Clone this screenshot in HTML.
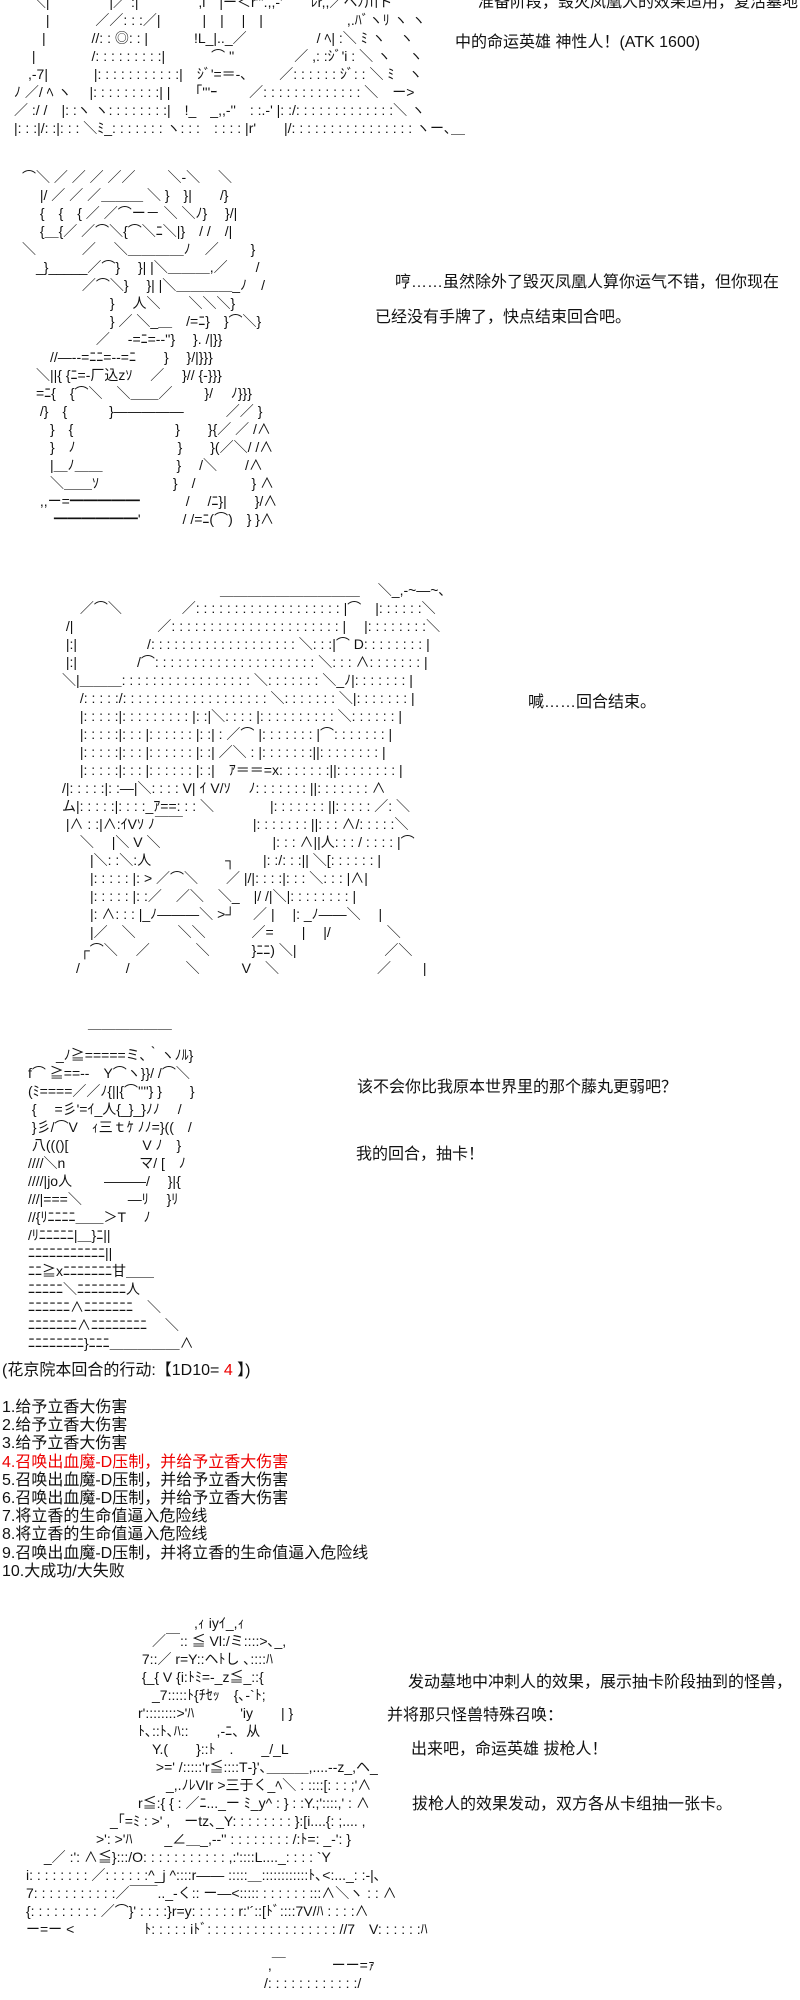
<!DOCTYPE html>
<html><head><meta charset="utf-8"><style>
html,body{margin:0;padding:0;background:#fff;width:800px;height:2000px;overflow:hidden;position:relative}
.aa{position:absolute;margin:0;white-space:pre;font-family:"Liberation Sans","Noto Sans CJK JP",sans-serif;font-size:14px;line-height:18px;color:#111}
.t{position:absolute;white-space:pre;font-family:"Liberation Sans","Noto Sans CJK SC",sans-serif;font-size:16px;line-height:18px;color:#111}
.red{color:#e00}
</style></head><body>

<pre class="aa" style="left:14px;top:-7px">　 ＼|　　　　 |／ :|　　　　 ,i　|ー＜r'''.,,-'　　ﾚr,,／ヘﾉ川ト
　　 |　　　 ／／: : :／|　　　|　|　 |　|　　　　　　,.ﾊﾞヽﾘ ヽ ヽ
　　|　　　 //: : ◎: : |　　　 !L_|.._／　　　　　/ ﾍ| :＼ ﾐ ヽ　ヽ
　 |　　　　/: : : : : : : : :|　　　 ⌒ ''　　　　 ／ ,: :ｼﾞ'i : ＼ ヽ　 ヽ
　,-7|　　　 |: : : : : : : : : : :|　ｼﾞ'=＝-､　　 ／: : : : : : ｼﾞ: : ＼ ﾐ　ヽ
ﾉ ／/ ﾍ ヽ　 |: : : : : : : : :| |　 「'''ｰ　　 ／: : : : : : : : : : : : : ＼　ー>
／ :/ /　|: :ヽ ヽ: : : : : : : :|　!_　_,,-''　: :.-' |: :/: : : : : : : : : : : : :＼ ヽ
|: : :|/: :|: : : ＼ﾐ_: : : : : : : ヽ: : :　: : : : |r'　　|/: : : : : : : : : : : : : : : : ヽー､＿</pre>

<div class="t" style="left:478px;top:-6px">准备阶段，毁灭凤凰人的效果适用，复活墓地</div>
<div class="t" style="left:455px;top:34px">中的命运英雄 神性人！(ATK 1600)</div>

<pre class="aa" style="left:22px;top:168px">⌒＼ ／ ／ ／ ／／　　 ＼-＼　 ＼
　 |/ ／ ／ ／＿＿＿ ＼ }　}|　　/}
　 {　{　{ ／ ／⌒ー－ ＼ ＼ﾉ}　 }/|
　 {＿{／ ／⌒＼{⌒＼ﾆ＼|}　/ /　/|
＼　　　 ／　 ＼＿＿＿＿ﾉ　／　　 }
　_}_____／⌒}　 }| |＼＿＿＿,／　　/
　　　　 ／⌒＼}　 }| |＼＿＿＿＿_ﾉ　/
　　　　　　 }　 人＼　　＼＼＼}
　　　　　　 } ／ ＼_＿　/=ﾆ}　}⌒＼}
　　　　　 ／　 -=ﾆ=--''}　 }. /|}}
　　//―--=ﾆﾆ=--=ﾆ　　}　 }/|}}}
　＼||{ {ﾆ=-厂込zｿ　 ／　 }// {-}}}
　=ﾆ{　{⌒＼　＼＿＿／　　 }/　 ﾉ}}}
　 /}　{　　　}―――――　　　／／ }
　　}　{　　　　　　　 }　　}{／ ／ /∧
　　}　ﾉ　　　　　　　 }　　}(／＼/ /∧
　　|＿ﾉ＿＿　　　　　 }　 /＼　　/∧
　　＼＿＿ｿ　　　　　 }　/　　　　} ∧
　 ,,ー=━━━━━　　　 /　 /ﾆ}|　　}/∧
　　 ━━━━━━'　　　/ /=ﾆ(⌒)　} }∧</pre>

<div class="t" style="left:395px;top:274px">哼……虽然除外了毁灭凤凰人算你运气不错，但你现在</div>
<div class="t" style="left:375px;top:309px">已经没有手牌了，快点结束回合吧。</div>

<pre class="aa" style="left:48px;top:581px">　　　　　　　　　　　　 ＿＿＿＿＿＿＿＿＿＿　 ＼_,-~―~､
　　 ／⌒＼　　　　 ／: : : : : : : : : : : : : : : : : : : |⌒　|: : : : : :＼
　 /|　　　　　　／: : : : : : : : : : : : : : : : : : : : : : |　 |: : : : : : : :＼
　 |:|　　　　　/: : : : : : : : : : : : : : : : : : : ＼: : :|⌒ D: : : : : : : : |
　 |:|　　　　 /⌒: : : : : : : : : : : : : : : : : : : : : ＼: : : ∧: : : : : : : |
　＼|＿＿＿: : : : : : : : : : : : : : : : : ＼: : : : : : : ＼_ﾉ|: : : : : : : |
　　 /: : : : :/: : : : : : : : : : : : : : : : : : : ＼: : : : : : : ＼|: : : : : : : |
　　 |: : : : :|: : : : : : : : : |: :|＼: : : : |: : : : : : : : : : ＼: : : : : : |
　　 |: : : : :|: : : |: : : : : : |: :| : ／⌒ |: : : : : : : |⌒: : : : : : : |
　　 |: : : : :|: : : |: : : : : : |: :| ／＼ : |: : : : : : :||: : : : : : : : |
　　 |: : : : :|: : : |: : : : : : |: :|　ｱ＝＝=x: : : : : : :||: : : : : : : : |
　/|: : : : :|: :―|＼: : : : V| ｲ V/ｿ　 ﾉ: : : : : : : ||: : : : : : : ∧
　ム|: : : : :|: : : :_ｱ==: : : ＼　　　　|: : : : : : : ||: : : : : ／: ＼
　 |∧ : :|∧:ｲVｿ ﾉ￣￣　　　　　|: : : : : : : ||: : : ∧/: : : : :＼
　　 ＼　 |＼ V ＼　　　　　　　　|: : : ∧||人: : : / : : : : |⌒
　　　|＼: :＼:人　　　　　 ┐　　|: :/: : :|| ＼[: : : : : : |
　　　|: : : : : |: > ／⌒＼　　／ |/|: : : :|: : : ＼: : : |∧|
　　　|: : : : : |: :／　／＼　＼_　|/ /|＼|: : : : : : : : |
　　　|: ∧: : : |_ﾉ―――＼ >┘　 ／ |　 |: _ﾉ――＼　 |
　　　|／　＼　　　＼＼　　　 ／=　　|　 |/　　　　＼
　　 ┌⌒＼　 ／　　　 ＼　　　}ﾆﾆ) ＼|　　　　　　 ／＼
　　/　　　 /　　　　＼　　　V　＼　　　　　　　／　　 |</pre>

<div class="t" style="left:528px;top:694px">喊……回合结束。</div>

<pre class="aa" style="left:14px;top:1028px">　　　　　 ￣￣￣￣￣￣
　　　_ﾉ≧=====ミ､｀ヽﾉﾙ}
　f⌒ ≧==--　Y⌒ヽ}}/ /⌒＼
　(ﾐ====／／ﾉ{||{⌒''''} }　　}
　 {　 =彡'=ｲ_人{_}_}ﾉﾉ　 /
　 }彡/⌒V　ｨ三ｔｹ ﾉﾉ=}((　/
　 八((()[　　　　　 V ﾉ　}
　////＼n　　　　　 マ/ [　ﾉ
　////|jo人　　 ―――/　 }|{
　///|===＼　　　 ―ﾘ　 }ﾘ
　//{ﾘﾆﾆﾆﾆ＿＿＞T　 ﾉ
　/ﾘﾆﾆﾆﾆﾆ|＿}ﾆ||
　ﾆﾆﾆﾆﾆﾆﾆﾆﾆﾆﾆ||
　ﾆﾆ≧xﾆﾆﾆﾆﾆﾆﾆ甘＿＿
　ﾆﾆﾆﾆﾆ＼ﾆﾆﾆﾆﾆﾆﾆ人
　ﾆﾆﾆﾆﾆﾆ∧ﾆﾆﾆﾆﾆﾆﾆ　＼
　ﾆﾆﾆﾆﾆﾆﾆ∧ﾆﾆﾆﾆﾆﾆﾆﾆ　 ＼
　ﾆﾆﾆﾆﾆﾆﾆﾆ}ﾆﾆﾆ＿＿＿＿＿∧</pre>

<div class="t" style="left:357px;top:1079px">该不会你比我原本世界里的那个藤丸更弱吧？</div>
<div class="t" style="left:356px;top:1146px">我的回合，抽卡！</div>

<div class="t" style="left:2px;top:1362px">(花京院本回合的行动:【1D10= <span class="red">4</span> 】)</div>
<div class="t" style="left:2px;top:1399px;line-height:18.2px">1.给予立香大伤害
2.给予立香大伤害
3.给予立香大伤害
<span class="red">4.召唤出血魔-D压制，并给予立香大伤害</span>
5.召唤出血魔-D压制，并给予立香大伤害
6.召唤出血魔-D压制，并给予立香大伤害
7.将立香的生命值逼入危险线
8.将立香的生命值逼入危险线
9.召唤出血魔-D压制，并将立香的生命值逼入危险线
10.大成功/大失败</div>

<pre class="aa" style="left:12px;top:1614px">　　　　　　　　　　　　　,ｨ iyｲ_,ｨ
　　　　　　　　　　／￣:: ≦ Vl:/ミ::::>､_,
　　　　　　　　　 7::／ r=Y::ヘﾄし ､::::ﾊ
　　　　　　　　　 {_{ V {i:ﾄﾐ=-_z≦_::{
　　　　　　　　　　_7:::::ﾄ{ﾁｾｯ　{､-`ﾄ;
　　　　　　　　　r'::::::::>'ﾊ　　　 'iy　　| }
　　　　　　　　　ﾄ､::ﾄ､ﾊ::　　,-ﾆ、从
　　　　　　　　　　Y.(　　}::ﾄ　.　　_/_L
　　　　　　　　　　 >=' /:::::'r≦::::T‐}'､＿＿＿,....--z_,ヘ_
　　　　　　　　　　　_,.ﾉﾚVIr >三于く_ﾍ＼ : ::::[: : : ;'∧
　　　　　　　　　r≦:{ { : ／ﾆ..._ー ﾐ_y^ : } : :Y.;'::::,' : ∧
　　　　　　　_｢=ﾐ : >' ,　ーtz､_Y: : : : : : : : }:[i....{: ;.... ,
　　　　　　>': >'ﾊ　　 _∠＿_,--'' : : : : : : : : /:ﾄ=: _-': }
　　 _／ :<r Y>': ∧≦}:::/O: : : : : : : : : : : ,:'::::L...._: : : : `Y
　i: : : : : : : : ／: : : : : :^_j ^::::r―― :::::＿::::::::::::ﾄ､<:..._: :-|､
　7: : : : : : : : : : :／￣￣.._-く:: ー―<::::: : : : : : : :::∧＼ヽ : : ∧
　{: : : : : : : : : ／⌒}' : : : :}r=y: : : : : : r:'´::[ﾄﾞ::::7V/ﾊ : : : :∧
　ー=ー <　　　　　ﾄ: : : : : iﾄﾞ: : : : : : : : : : : : : : : : : //7　V: : : : : :ﾊ
 
　　　　　　　　　　　　　　　　　　 ,￣　　　 ーー=ｧ
　　　　　　　　　　　　　　　　　　/: : : : : : : : : : : :/</pre>

<div class="t" style="left:408px;top:1674px">发动墓地中冲刺人的效果，展示抽卡阶段抽到的怪兽，</div>
<div class="t" style="left:387px;top:1707px">并将那只怪兽特殊召唤：</div>
<div class="t" style="left:411px;top:1741px">出来吧，命运英雄 拔枪人！</div>
<div class="t" style="left:412px;top:1796px">拔枪人的效果发动，双方各从卡组抽一张卡。</div>

</body></html>
